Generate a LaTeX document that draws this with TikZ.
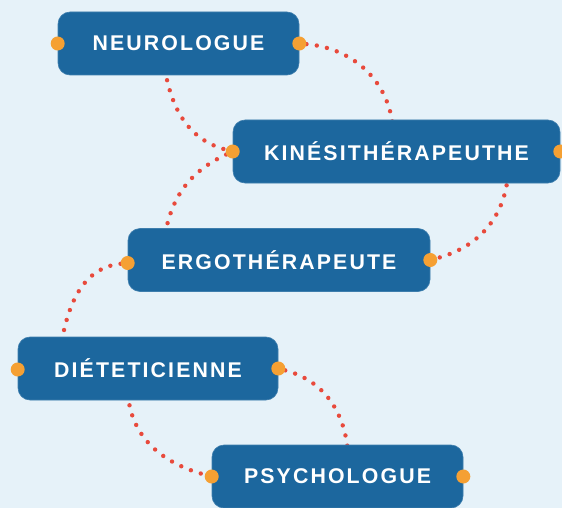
\documentclass[tikz,border=0pt]{standalone}
\usepackage{fontspec}
\newfontfamily\boxfont{Liberation Sans}[LetterSpace=10]
\definecolor{bgblue}{HTML}{E6F2F9}
\definecolor{boxblue}{HTML}{1C679E}
\definecolor{dotorange}{HTML}{F5A033}
\definecolor{linkred}{HTML}{E84A3C}
\pgfdeclarelayer{bg}
\pgfdeclarelayer{links}
\pgfsetlayers{bg,links,main}
\begin{document}
\begin{tikzpicture}[x=1pt, y=1pt,
    box/.style={rectangle, rounded corners=12pt, fill=boxblue, draw=boxblue!85!white, line width=0.6pt,
                minimum height=63pt, inner sep=0pt, text=white, font=\boxfont\bfseries\fontsize{21.3}{25}\selectfont},
    pin/.style={circle, fill=dotorange, inner sep=0pt, minimum size=14pt},
    link/.style={draw=linkred, line width=4.4pt, line cap=round, dash pattern=on 0pt off 10.4pt}]
    \useasboundingbox (0,0) rectangle (562,-508);
    \node[box, minimum width=241pt] (neuro) at (178.5,-43.5) {NEUROLOGUE};
    \node[box, minimum width=327pt] (kine) at (396.5,-151.5) {KINÉSITHÉRAPEUTHE};
    \node[box, minimum width=302pt] (ergo) at (279,-260) {ERGOTHÉRAPEUTE};
    \node[box, minimum width=260pt] (diet) at (148,-368.5) {DIÉTETICIENNE};
    \node[box, minimum width=251pt] (psych) at (337.5,-476.5) {PSYCHOLOGUE};
    \node[pin] (neuro-l) at (neuro.west) {};
    \node[pin] (neuro-r) at (neuro.east) {};
    \node[pin] (kine-l) at (kine.west) {};
    \node[pin] (kine-r) at (kine.east) {};
    \node[pin] (ergo-l) at ([yshift=-3pt]ergo.west) {};
    \node[pin] (ergo-r) at (ergo.east) {};
    \node[pin] (diet-l) at ([yshift=-1pt]diet.west) {};
    \node[pin] (diet-r) at (diet.east) {};
    \node[pin] (psych-l) at (psych.west) {};
    \node[pin] (psych-r) at (psych.east) {};
    \coordinate (neuro-b) at (165,-70);
    \coordinate (kine-t) at (393,-128);
    \coordinate (kine-b) at (508,-175);
    \coordinate (ergo-t) at (165,-235);
    \coordinate (diet-t) at (61,-345);
    \coordinate (diet-b) at (128,-395);
    \coordinate (psych-t) at (348,-452);
    \begin{pgfonlayer}{bg}
        \fill[bgblue] (0,0) rectangle (562,-508);
    \end{pgfonlayer}
    \begin{pgfonlayer}{links}
        \draw[link] (neuro-r) to[out=-5, in=95] (kine-t);
        \draw[link] (neuro-b) to[out=-80, in=165] (kine-l);
        \draw[link] (kine-l) to[out=-155, in=80] (ergo-t);
        \draw[link] (kine-b) to[out=-95, in=15] (ergo-r);
        \draw[link] (ergo-l) to[out=186, in=80] (diet-t);
        \draw[link] (diet-r) to[out=-15, in=95] (psych-t);
        \draw[link] (diet-b) to[out=-85, in=165] (psych-l);
    \end{pgfonlayer}
\end{tikzpicture}
\end{document}
